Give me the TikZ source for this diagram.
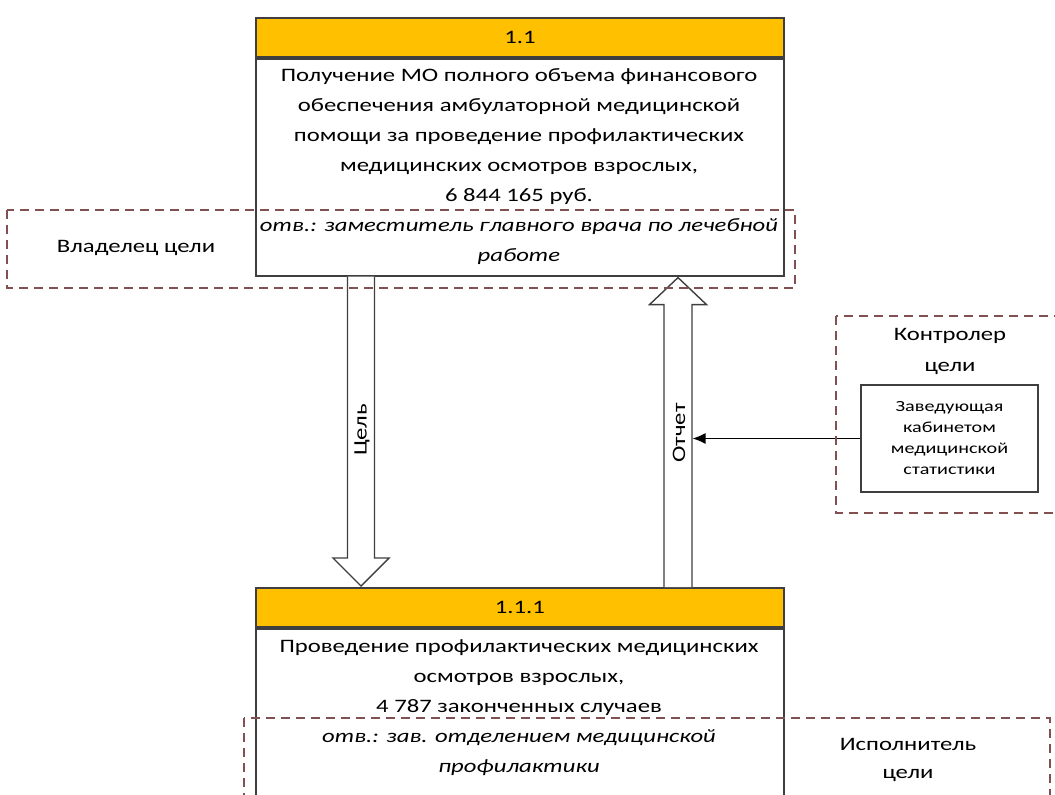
\documentclass[tikz,border=0pt]{standalone}
\usepackage{fontspec}
\setmainfont{Carlito}[FakeStretch=1.3]
\usetikzlibrary{calc,arrows.meta}
\definecolor{hdrfill}{HTML}{FFC000}
\definecolor{frame}{HTML}{3F3F3F}
\definecolor{zone}{RGB}{130,80,80}

\begin{document}
\begin{tikzpicture}[x=1pt,y=-1pt,
  hdrbox/.style={draw=frame, line width=1.8pt, fill=hdrfill, anchor=north west,
    minimum width=528pt, minimum height=39pt, inner sep=0pt,
    font=\fontsize{19}{23}\selectfont},
  bodybox/.style={draw=frame, line width=1.8pt, fill=white, anchor=north west,
    minimum width=528pt, inner sep=0pt},
  maintxt/.style={align=center, inner sep=0pt, font=\fontsize{19}{30}\selectfont},
  resptxt/.style={maintxt, font=\fontsize{19}{30}\selectfont\itshape},
  smalltxt/.style={align=center, inner sep=0pt, font=\fontsize{15.5}{21}\selectfont},
  zonebox/.style={draw=zone, line width=1.3pt, dash pattern=on 9pt off 6pt},
  blockarrow/.style={draw=frame, line width=1.4pt, fill=white, line join=miter},
  feed/.style={draw=black, line width=1.3pt, -{Latex[length=13pt,width=11pt]}}
]
\useasboundingbox (0,0) rectangle (1055,795);
\clip (0,0) rectangle (1055,795);

% upper goal 1.1
\node[hdrbox] (h1) at (255,17) {1.1};
\node[bodybox, minimum height=217pt] (b1) at (h1.south west) {};
\node[maintxt] (t1) at (519,137) {Получение МО полного объема финансового\\
  обеспечения амбулаторной медицинской\\
  помощи за проведение профилактических\\
  медицинских осмотров взрослых,\\
  6 844 165 руб.};
\node[resptxt] (r1) at (519,242) {отв.: заместитель главного врача по лечебной\\работе};

% lower goal 1.1.1
\node[hdrbox] (h2) at (255,587) {1.1.1};
\node[bodybox, minimum height=200pt] (b2) at (h2.south west) {};
\node[maintxt] (t2) at (519,678) {Проведение профилактических медицинских\\
  осмотров взрослых,\\
  4 787 законченных случаев};
\node[resptxt] (r2) at (519,753) {отв.: зав. отделением медицинской\\профилактики};

% goal arrow, downwards
\coordinate (gs) at ($(b1.south west)+(106,0)$);
\coordinate (ge) at (gs |- h2.north);
\draw[blockarrow] let \p1=(gs), \p2=(ge) in
  (\x1-13.5pt,\y1) -- (\x1-13.5pt,\y2+29pt) -- (\x1-28pt,\y2+29pt) -- (\x1,\y2+1pt)
  -- (\x1+28pt,\y2+29pt) -- (\x1+13.5pt,\y2+29pt) -- (\x1+13.5pt,\y1);
\node[maintxt, rotate=90] (gl) at ($(gs |- 0,430)+(1,0)$) {Цель};

% report arrow, upwards
\coordinate (rs) at ($(h2.north west)+(423,0)$);
\coordinate (re) at (rs |- b1.south);
\draw[blockarrow] let \p1=(rs), \p2=(re) in
  (\x1-14pt,\y1) -- (\x1-14pt,\y2-28pt) -- (\x1-28.5pt,\y2-28pt) -- (\x1,\y2-1pt)
  -- (\x1+28.5pt,\y2-28pt) -- (\x1+14pt,\y2-28pt) -- (\x1+14pt,\y1);
\node[maintxt, rotate=90] (rl) at ($(rs |- 0,433)+(1,0)$) {Отчет};

% controller
\node[draw=frame, line width=1.5pt, fill=white, minimum width=177pt, minimum height=107pt,
  inner sep=0pt] (ctl) at (949.5,438.5) {};
\node[smalltxt] (ctlt) at (ctl.center) {Заведующая\\кабинетом\\медицинской\\статистики};
\coordinate (rx) at ($(rs)+(14.5,0)$);
\draw[feed] (ctl.west) -- (ctl.west -| rx);

% zones
\draw[zonebox] (7,210) rectangle (795,288);
\node[maintxt] (own) at (136,248) {Владелец цели};
\draw[zonebox] (836,316) rectangle (1075,513);
\node[maintxt, font=\fontsize{19}{31}\selectfont] (ctrl) at (950,351) {Контролер\\цели};
\draw[zonebox] (244,718) rectangle (1050,820);
\node[maintxt, font=\fontsize{19}{28}\selectfont] (exe) at (908,760) {Исполнитель\\цели};
\end{tikzpicture}
\end{document}
